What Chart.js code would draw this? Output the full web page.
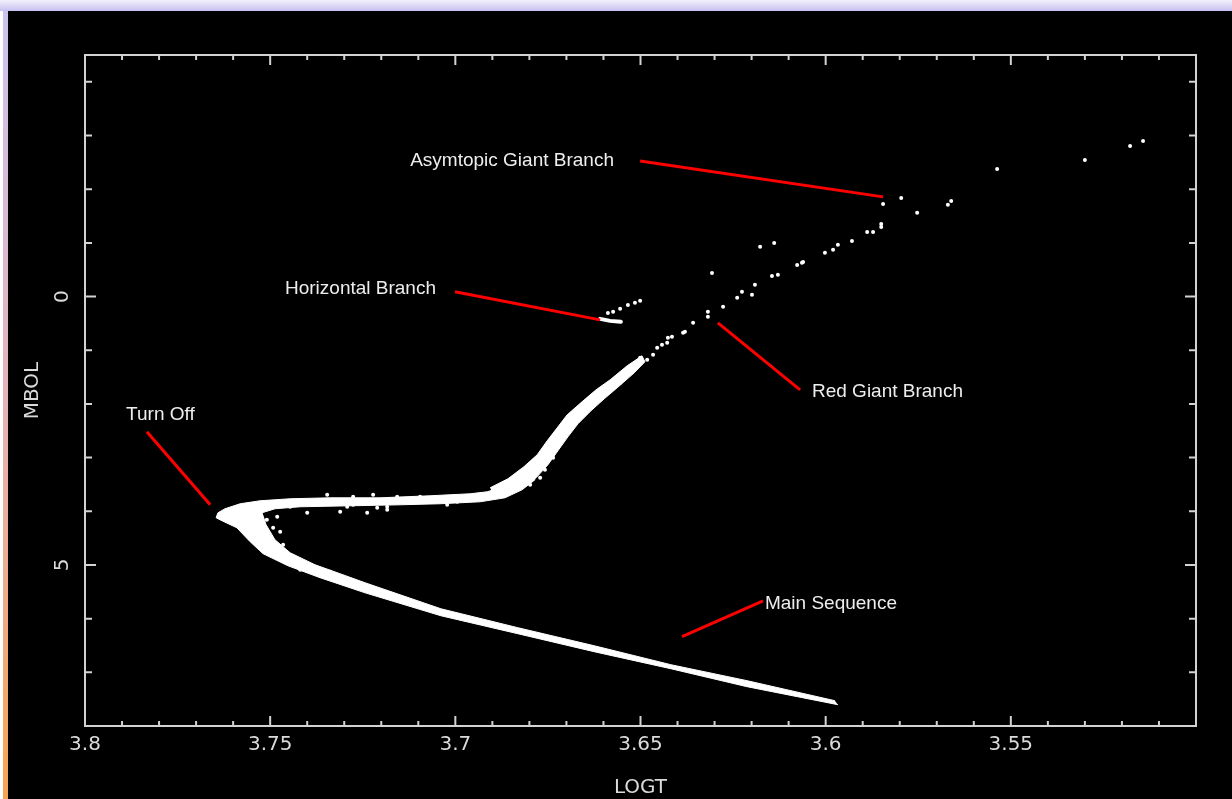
<!DOCTYPE html>
<html>
<head>
<meta charset="utf-8">
<title>HR diagram</title>
<script src="https://cdn.jsdelivr.net/npm/chart.js@4.4.1/dist/chart.umd.min.js"></script>
<style>
  body { margin: 0; background: #fff; width: 1232px; height: 799px; overflow: hidden; position: relative; }
  #topband { position: absolute; left: 0; top: 0; width: 1232px; height: 11px; background: linear-gradient(#f3f1fc, #c6c0f0); }
  #leftband { position: absolute; left: 3px; top: 11px; width: 5px; height: 788px; background: linear-gradient(#cbc3ee, #e6b2b8 50%, #f5a452); }
  #plot { position: absolute; left: 8px; top: 11px; width: 1224px; height: 788px; background: #000; }
</style>
</head>
<body>
<div id="topband"></div>
<div id="leftband"></div>
<div id="plot"><canvas id="hr" width="1224" height="788"></canvas></div>
<script>
// axis ticks
const xTickValues = [3.8, 3.75, 3.7, 3.65, 3.6, 3.55];
const xTickLabels = ['3.8', '3.75', '3.7', '3.65', '3.6', '3.55'];
const yTickValues = [0, 5];
const yTickLabels = ['0', '5'];

// dense part: main sequence + turn off + subgiant branch, outline as [logT, Mbol]
const coreOutline = [
  [3.5967, 7.603], [3.6212, 7.268], [3.6418, 6.933], [3.6625, 6.616], [3.6831, 6.281],
  [3.7039, 5.946], [3.7244, 5.518], [3.7365, 5.238], [3.7452, 5.015], [3.7519, 4.791],
  [3.7554, 4.568], [3.7590, 4.307], [3.7630, 4.177], [3.7646, 4.121],
  [3.7641, 4.028], [3.7622, 3.953], [3.7581, 3.860], [3.7527, 3.804], [3.7446, 3.767],
  [3.7338, 3.749], [3.7203, 3.749], [3.7068, 3.711], [3.6960, 3.674], [3.6914, 3.637],
  [3.6879, 3.562], [3.6844, 3.469], [3.6820, 3.376], [3.6798, 3.264],
  [3.6785, 3.413], [3.6820, 3.600], [3.6866, 3.749], [3.6933, 3.823], [3.7041, 3.860],
  [3.7149, 3.879], [3.7284, 3.898], [3.7419, 3.916], [3.7487, 3.953], [3.7522, 4.028],
  [3.7511, 4.251], [3.7487, 4.531], [3.7446, 4.773], [3.7379, 4.996], [3.7311, 5.164],
  [3.7244, 5.331], [3.7039, 5.816], [3.6831, 6.169], [3.6625, 6.505], [3.6418, 6.858],
  [3.6212, 7.156], [3.5975, 7.529]
];

// lower red giant branch band
const rgbOutline = [
  [3.6906, 3.562], [3.6858, 3.395], [3.6815, 3.171], [3.6779, 2.948], [3.6752, 2.687],
  [3.6725, 2.445], [3.6698, 2.203], [3.6658, 1.961], [3.6620, 1.737], [3.6582, 1.551],
  [3.6536, 1.290], [3.6496, 1.104],
  [3.6488, 1.216], [3.6517, 1.421], [3.6563, 1.700], [3.6598, 1.905], [3.6634, 2.129],
  [3.6669, 2.371], [3.6696, 2.613], [3.6723, 2.873], [3.6750, 3.134], [3.6782, 3.376],
  [3.6831, 3.618], [3.6893, 3.767]
];

// horizontal branch clump
const hbClump = [[3.6609, 0.415], [3.6582, 0.453], [3.6553, 0.471]];

// single stars
const stars = [
  [3.7527, 3.842], [3.7500, 3.935], [3.7481, 4.102], [3.7509, 4.158], [3.7492, 4.307],
  [3.7473, 4.382], [3.7500, 4.568], [3.7465, 4.624], [3.7446, 3.916], [3.7419, 3.879],
  [3.7365, 3.823], [3.7319, 3.842], [3.7292, 3.916], [3.7276, 3.879], [3.7257, 3.823],
  [3.7238, 3.842], [3.7211, 3.935], [3.7184, 3.916], [3.7168, 3.823], [3.7114, 3.842],
  [3.7060, 3.823], [3.7022, 3.879], [3.6995, 3.823], [3.6960, 3.749], [3.7346, 3.693],
  [3.7276, 3.730], [3.7222, 3.693], [3.7157, 3.730], [3.7095, 3.730], [3.7041, 3.749],
  [3.6887, 3.600], [3.6825, 3.469], [3.7400, 4.028], [3.7311, 4.009], [3.7238, 4.028],
  [3.7184, 3.972], [3.7419, 5.089], [3.7338, 5.127],
  [3.6758, 3.227], [3.6736, 3.004], [3.6677, 2.259], [3.6615, 1.886], [3.6555, 1.607],
  [3.6798, 3.507],
  [3.6547, 1.458], [3.6536, 1.365], [3.6520, 1.309], [3.6509, 1.235], [3.6501, 1.142],
  [3.6482, 1.179], [3.6466, 1.086], [3.6442, 0.899], [3.6428, 0.862], [3.6415, 0.750],
  [3.6385, 0.676], [3.6590, 1.700], [3.6574, 1.588], [3.6636, 1.961], [3.6655, 2.110],
  [3.6709, 2.426], [3.6690, 2.482], [3.6717, 2.669], [3.6752, 2.911], [3.6771, 3.376],
  [3.6455, 0.955], [3.6426, 0.769], [3.6380, 0.657], [3.6358, 0.490], [3.6318, 0.378],
  [3.6318, 0.285], [3.6277, 0.192], [3.6239, 0.024], [3.6199, -0.032], [3.6226, -0.088],
  [3.6191, -0.218], [3.6145, -0.385], [3.6129, -0.404], [3.6307, -0.441],
  [3.6177, -0.926], [3.6139, -1.000], [3.6077, -0.590], [3.6061, -0.646],
  [3.6064, -0.628], [3.6002, -0.814], [3.5980, -0.870], [3.5967, -0.963], [3.5929, -1.037],
  [3.5888, -1.205], [3.5872, -1.205], [3.5850, -1.298], [3.5850, -1.354], [3.5845, -1.726],
  [3.5796, -1.838], [3.5753, -1.559], [3.5670, -1.708], [3.5661, -1.782], [3.5537, -2.378],
  [3.5300, -2.546], [3.5178, -2.806], [3.5143, -2.899],
  [3.6588, 0.304], [3.6574, 0.285], [3.6555, 0.229], [3.6534, 0.155], [3.6515, 0.117],
  [3.6501, 0.080]
];

// annotations: label text, where the label sits, red pointer from/to
const labelTexts = ['Asymtopic Giant Branch', 'Horizontal Branch', 'Red Giant Branch', 'Turn Off', 'Main Sequence'];
const labelAnchors = [[3.7122, -2.527], [3.7460, -0.143], [3.6037, 1.775], [3.7889, 2.203], [3.6164, 5.722]];
const pointerFrom = [[3.6501, -2.527], [3.7001, -0.088], [3.6291, 0.490], [3.7833, 2.520], [3.6388, 6.337]];
const pointerTo = [[3.5845, -1.857], [3.6609, 0.434], [3.6069, 1.737], [3.7662, 3.879], [3.6169, 5.667]];

const toXY = arr => arr.map(p => ({ x: p[0], y: p[1] }));

const framePlugin = {
  id: 'frame',
  afterDraw(chart) {
    const { ctx, chartArea: a, scales: { x, y } } = chart;
    ctx.save();
    ctx.strokeStyle = '#d2d2d2';
    ctx.lineWidth = 2;
    ctx.strokeRect(a.left, a.top, a.right - a.left, a.bottom - a.top);
    ctx.beginPath();
    for (let v = 351; v < 380; v++) {
      const px = x.getPixelForValue(v / 100);
      const len = v % 5 === 0 ? 10 : 5;
      ctx.moveTo(px, a.bottom); ctx.lineTo(px, a.bottom - len);
      ctx.moveTo(px, a.top); ctx.lineTo(px, a.top + len);
    }
    for (let v = -4; v <= 7; v++) {
      const py = y.getPixelForValue(v);
      const len = v % 5 === 0 ? 11 : 7;
      ctx.moveTo(a.left, py); ctx.lineTo(a.left + len, py);
      ctx.moveTo(a.right, py); ctx.lineTo(a.right - len, py);
    }
    ctx.stroke();

    ctx.fillStyle = '#dadada';
    ctx.font = '20px "DejaVu Sans"';
    ctx.textAlign = 'center';
    ctx.textBaseline = 'middle';
    xTickValues.forEach((v, i) => ctx.fillText(xTickLabels[i], x.getPixelForValue(v), a.bottom + 19));
    yTickValues.forEach((v, i) => {
      ctx.save();
      ctx.translate(a.left - 22, y.getPixelForValue(v));
      ctx.rotate(-Math.PI / 2);
      ctx.fillText(yTickLabels[i], 0, 0);
      ctx.restore();
    });
    ctx.fillText('LOGT', (a.left + a.right) / 2, a.bottom + 62);
    ctx.save();
    ctx.translate(a.left - 52, (a.top + a.bottom) / 2);
    ctx.rotate(-Math.PI / 2);
    ctx.fillText('MBOL', 0, 0);
    ctx.restore();

    ctx.font = '19px "Liberation Sans", Arial, sans-serif';
    ctx.fillStyle = '#eeeeee';
    ctx.textAlign = 'left';
    labelTexts.forEach((t, i) => {
      ctx.fillText(t, x.getPixelForValue(labelAnchors[i][0]), y.getPixelForValue(labelAnchors[i][1]));
    });
    ctx.restore();
  }
};

const pointerSets = pointerFrom.map((p, i) => ({
  data: toXY([p, pointerTo[i]]),
  borderColor: '#ff0000',
  borderWidth: 3,
  pointRadius: 0,
  fill: false,
  order: 0
}));

new Chart(document.getElementById('hr'), {
  type: 'line',
  data: {
    datasets: [
      ...pointerSets,
      {
        data: toXY(coreOutline),
        borderColor: '#fff',
        backgroundColor: '#fff',
        borderWidth: 1,
        pointRadius: 0,
        tension: 0,
        fill: 'shape',
        order: 1
      },
      {
        data: toXY(rgbOutline),
        borderColor: '#fff',
        backgroundColor: '#fff',
        borderWidth: 1,
        pointRadius: 0,
        tension: 0,
        fill: 'shape',
        order: 1
      },
      {
        data: toXY(hbClump),
        borderColor: '#fff',
        borderWidth: 4,
        borderCapStyle: 'round',
        pointRadius: 0,
        fill: false,
        order: 1
      },
      {
        data: toXY(stars),
        showLine: false,
        pointRadius: 2,
        pointBorderWidth: 0,
        pointBackgroundColor: '#fff',
        order: 1
      }
    ]
  },
  options: {
    responsive: false,
    animation: false,
    devicePixelRatio: 1,
    layout: { padding: { left: 77, top: 44, right: 36, bottom: 73 } },
    plugins: { legend: { display: false }, tooltip: { enabled: false } },
    scales: {
      x: { type: 'linear', min: 3.5, max: 3.8, reverse: true, display: false },
      y: { type: 'linear', min: -4.5, max: 8, reverse: true, display: false }
    }
  },
  plugins: [framePlugin]
});
</script>
</body>
</html>
